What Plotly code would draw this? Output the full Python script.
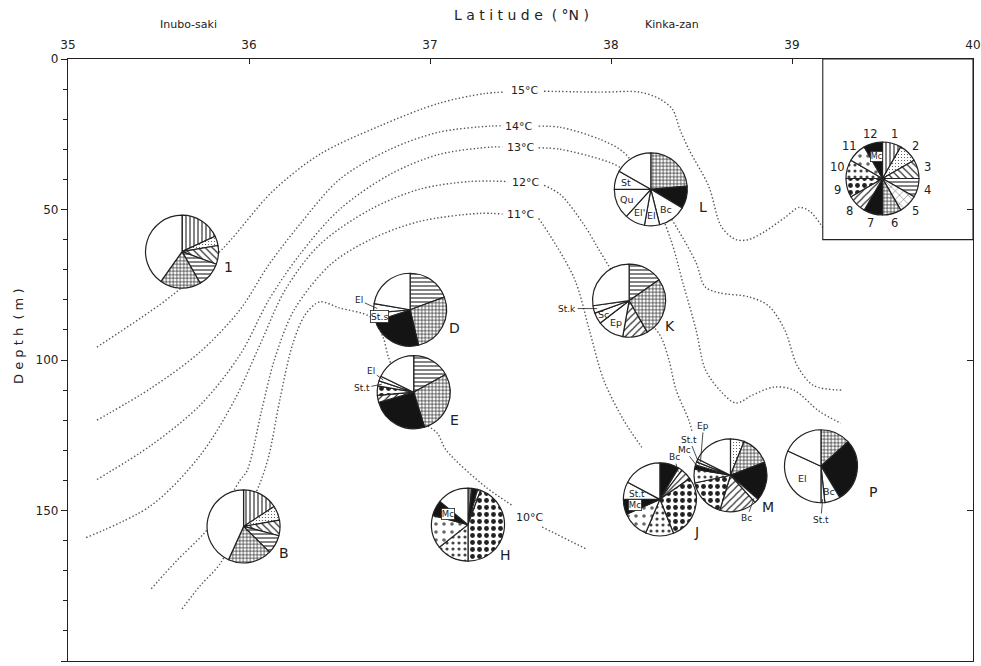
import math
import plotly.graph_objects as go

# ---------------- page / axis geometry ----------------
W, H = 981, 666
ML, MR, MT, MB = 68, 8, 59, 5
PW, PH = W - ML - MR, H - MT - MB
LAT_RANGE = [35, 40]
DEP_RANGE = [0, 200]
PX_LAT = PW / (LAT_RANGE[1] - LAT_RANGE[0])
PX_DEP = PH / (DEP_RANGE[1] - DEP_RANGE[0])
PIE_R = 36.5  # pie radius in px

# ---------------- isotherms (latitude °N, depth m); None = gap for label ----------------
t15_lat = [35.16, 35.58, 35.86, 36.13, 36.39, 36.72, 37.05, 37.30, 37.41, None,
           37.63, 37.94, 38.16, 38.27, 38.34, 38.38, 38.43, 38.54, 38.61, 38.69,
           38.76, 38.85, 38.96, 39.04, 39.10, 39.17]
t15_dep = [95.7, 78.3, 62.7, 44.0, 31.7, 22.3, 14.7, 11.5, 11.0, None,
           10.7, 11.0, 11.0, 13.3, 16.7, 23.3, 30.0, 42.3, 55.7, 60.0,
           60.0, 57.3, 52.7, 49.3, 50.7, 56.0]

t14_lat = [35.16, 35.46, 35.73, 35.95, 36.11, 36.28, 36.50, 36.78, 37.05, 37.33, 37.39, None,
           37.60, 37.72, 37.94, 38.07, 38.22, 38.36, 38.47, 38.52, 38.60, 38.76,
           38.87, 38.96, 39.03, 39.12, 39.28]
t14_dep = [120.0, 109.3, 97.3, 83.3, 68.3, 55.0, 40.0, 30.0, 24.3, 22.3, 22.2, None,
           22.3, 22.7, 26.7, 31.0, 43.0, 55.7, 67.7, 75.7, 77.7, 79.0,
           82.0, 90.0, 102.0, 108.5, 110.0]

t13_lat = [35.16, 35.46, 35.73, 35.95, 36.11, 36.28, 36.50, 36.78, 37.05, 37.33, 37.40, None,
           37.60, 37.72, 37.94, 38.05, 38.22, 38.33, 38.40, 38.47, 38.52, 38.60, 38.69,
           38.78, 38.90, 39.01, 39.15, 39.27]
t13_dep = [139.7, 128.3, 115.0, 98.3, 80.0, 65.0, 50.0, 38.3, 31.7, 29.3, 29.2, None,
           29.5, 30.0, 33.3, 36.0, 45.0, 60.0, 75.0, 90.0, 103.0, 110.0, 114.3,
           111.7, 109.0, 110.0, 117.0, 121.0]

t12_lat = [35.10, 35.46, 35.73, 35.92, 36.06, 36.20, 36.39, 36.67, 36.94, 37.22, 37.43, None,
           37.63, 37.72, 37.85, 37.92, 37.98, 38.10, 38.27, 38.32, 38.36, 38.43, 38.45]
t12_dep = [159.0, 148.3, 131.7, 113.3, 95.0, 76.7, 61.7, 50.0, 43.3, 40.7, 40.7, None,
           42.0, 45.0, 55.0, 62.0, 68.0, 80.0, 91.7, 100.0, 110.0, 120.0, 124.3]

t11_lat = [35.46, 35.60, 35.75, 35.85, 35.95, 35.99, 36.07, 36.14, 36.25, 36.45, 36.67,
           36.94, 37.27, 37.40, None, 37.60, 37.66, 37.80, 37.88, 37.96, 38.07, 38.17]
t11_dep = [176.0, 166.7, 157.7, 150.0, 140.0, 136.7, 116.7, 100.0, 83.3, 68.3, 60.0,
           54.0, 51.3, 51.5, None, 53.0, 58.3, 73.3, 90.0, 106.7, 120.0, 129.0]

t10_lat = [35.63, 35.73, 35.84, 35.95, 36.06, 36.11, 36.17, 36.24, 36.31, 36.39, 36.50,
           36.67, 36.74, 36.77, 36.85, 36.95, 37.04, 37.09, 37.31, 37.46, None, 37.62, 37.86]
t10_dep = [182.7, 175.0, 167.7, 155.0, 141.0, 131.7, 113.3, 95.0, 85.0, 80.7, 82.7,
           85.7, 92.3, 99.0, 110.0, 120.0, 124.3, 130.0, 142.3, 148.5, None, 155.5, 162.7]

iso_names = ["15°C", "14°C", "13°C", "12°C", "11°C", "10°C"]
iso_label_lat = [37.52, 37.49, 37.50, 37.53, 37.50, 37.55]
iso_label_dep = [10.5, 22.3, 29.3, 41.0, 51.7, 152.2]
iso_lines = [(t15_lat, t15_dep), (t14_lat, t14_dep), (t13_lat, t13_dep),
             (t12_lat, t12_dep), (t11_lat, t11_dep), (t10_lat, t10_dep)]

# ---------------- stations ----------------
station_names = ["1", "B", "D", "E", "H", "L", "K", "J", "M", "P"]
station_lat = [35.63, 35.97, 36.89, 36.91, 37.21, 38.22, 38.10, 38.27, 38.66, 39.16]
station_dep = [64.0, 155.3, 83.3, 110.7, 154.7, 43.3, 80.3, 146.3, 138.3, 135.3]

# slice composition (%), clockwise from 12 o'clock; "" = remainder
comp_codes = {
    "1": ["1", "2", "3", "4", "6", ""],
    "B": ["1", "2", "3", "4", "6", ""],
    "D": ["4", "6", "7", "St.s", "El", ""],
    "E": ["4", "6", "7", "8", "9", "St.t", "El", ""],
    "H": ["1", "7", "8", "9", "10", "11", "12", ""],
    "L": ["6", "7", "Bc", "El", "El'", "Qu", "St", ""],
    "K": ["4", "6", "8", "Ep", "Sc", "St.k", ""],
    "J": ["7", "Bc", "8", "9", "10", "11", "12", "St.t", ""],
    "M": ["2", "6", "7", "Bc", "8", "9", "10", "12", "St.t", "Ep", ""],
    "P": ["6", "7", "Bc", "St.t", "El", ""],
}
comp_values = {
    "1": [18.1, 4.2, 8.3, 11.1, 18.1, 40.2],
    "B": [15.8, 6.4, 6.9, 8.3, 19.4, 43.2],
    "D": [19.4, 26.9, 23.6, 3.6, 4.2, 22.3],
    "E": [16.9, 28.3, 25.3, 3.1, 4.2, 2.2, 2.2, 17.8],
    "H": [1.7, 2.5, 1.4, 44.4, 14.4, 14.7, 6.9, 14.0],
    "L": [23.6, 10.0, 12.5, 6.7, 8.9, 13.3, 8.3, 16.7],
    "K": [15.3, 26.4, 11.1, 11.7, 5.0, 3.3, 27.2],
    "J": [8.6, 1.7, 5.0, 28.6, 12.5, 11.9, 6.7, 7.8, 17.2],
    "M": [6.1, 13.1, 17.2, 1.9, 16.4, 16.9, 6.1, 1.9, 1.4, 1.4, 17.6],
    "P": [13.3, 28.1, 6.9, 1.7, 31.9, 18.1],
}

# key pie (12 equal sectors)
key_lat, key_dep = 39.50, 39.7
key_codes = [str(i) for i in range(1, 13)]
key_values = [1] * 12
key_box = dict(lat0=39.17, lat1=40.0, dep0=0.0, dep1=60.0)

# ---------------- styles ----------------
INK = "#222222"
FONT = "DejaVu Sans"
# code -> (shape, size, solidity, fgcolor)
PATTERN = {
    "1": ("|", 4, 0.28, INK),
    "2": (".", 3, 0.12, "#444444"),
    "3": ("\\", 5, 0.22, INK),
    "4": ("-", 4, 0.28, INK),
    "5": ("x", 6, 0.12, INK),
    "6": ("+", 3.5, 0.35, INK),
    "8": ("/", 5, 0.22, INK),
    "9": (".", 7, 0.38, INK),
    "10": (".", 6, 0.22, "#444444"),
    "11": (".", 8, 0.16, "#666666"),
}
SOLID = {"7", "12"}


def slice_style(codes):
    colors, shapes, sizes, sols, fgs = [], [], [], [], []
    for c in codes:
        if c in PATTERN:
            s, z, so, fg = PATTERN[c]
            colors.append("white"); shapes.append(s); sizes.append(z)
            sols.append(so); fgs.append(fg)
        elif c in SOLID:
            colors.append("#141414"); shapes.append(""); sizes.append(4)
            sols.append(0.3); fgs.append(INK)
        else:
            colors.append("white"); shapes.append(""); sizes.append(4)
            sols.append(0.3); fgs.append(INK)
    return colors, shapes, sizes, sols, fgs


def to_data(lat, dep, dx=0.0, dy=0.0):
    return lat + dx / PX_LAT, dep + dy / PX_DEP


def pie_domain(lat, dep):
    cx = (lat - LAT_RANGE[0]) * PX_LAT
    cy = (dep - DEP_RANGE[0]) * PX_DEP
    return dict(x=[(cx - PIE_R) / PW, (cx + PIE_R) / PW],
                y=[1 - (cy + PIE_R) / PH, 1 - (cy - PIE_R) / PH])


def mid_angles(values):
    tot = sum(values)
    out, acc = [], 0.0
    for v in values:
        out.append((acc + v / 2) / tot * 360.0)
        acc += v
    return out


def on_pie(lat, dep, ang, rfac):
    a = math.radians(ang)
    return to_data(lat, dep, PIE_R * rfac * math.sin(a), -PIE_R * rfac * math.cos(a))


fig = go.Figure()

# isotherms
for lat, dep in iso_lines:
    fig.add_trace(go.Scatter(
        x=lat, y=dep, mode="lines", connectgaps=False, hoverinfo="skip",
        line=dict(color="#555555", width=1.4, dash="1.4px,2.2px", shape="spline", smoothing=0.9),
        showlegend=False))

# right-hand depth axis carries only the major ticks
fig.add_trace(go.Scatter(x=[], y=[], yaxis="y2", showlegend=False, hoverinfo="skip"))


def add_pie(codes, values, lat, dep):
    colors, shapes, sizes, sols, fgs = slice_style(codes)
    fig.add_trace(go.Pie(
        values=values, labels=[f"{i}" for i in range(len(values))],
        sort=False, direction="clockwise", rotation=0,
        domain=pie_domain(lat, dep), textinfo="none", hoverinfo="skip",
        showlegend=False,
        marker=dict(colors=colors, line=dict(color=INK, width=1.2),
                    pattern=dict(shape=shapes, size=sizes, solidity=sols,
                                 fgcolor=fgs, bgcolor=["white" if s else c for s, c in zip(shapes, colors)],
                                 fillmode="replace"))))


for name, lat, dep in zip(station_names, station_lat, station_dep):
    add_pie(comp_codes[name], comp_values[name], lat, dep)
add_pie(key_codes, key_values, key_lat, key_dep)

annotations = []


def text(lat, dep, s, size=12, **kw):
    d = dict(x=lat, y=dep, xref="x", yref="y", text=s, showarrow=False,
             xanchor="center", yanchor="middle",
             font=dict(family=FONT, size=size, color=INK))
    d.update(kw)
    annotations.append(d)


# station letters (px offset from pie centre)
letter_offset = {"1": (46, 15), "B": (40, 27), "D": (44, 18), "E": (41, 28), "H": (37, 30),
                 "L": (52, 18), "K": (41, 25), "J": (37, 33), "M": (38, 32), "P": (52, 26)}
for name, lat, dep in zip(station_names, station_lat, station_dep):
    dx, dy = letter_offset[name]
    x, y = to_data(lat, dep, dx, dy)
    text(x, y, name, size=14)

# slice names
inside_labels = [
    ("L", "Bc", "Bc", 0.68), ("L", "El", "El", 0.72), ("L", "El'", "El'", 0.72),
    ("L", "Qu", "Qu", 0.70), ("L", "St", "St", 0.70),
    ("K", "Ep", "Ep", 0.70), ("K", "Sc", "Sc", 0.80),
    ("J", "St.t", "St.t", 0.66),
    ("P", "El", "El", 0.60), ("P", "Bc", "Bc", 0.72),
    ("D", "St.s", "St.s", 0.86),
]
boxed_labels = [("J", "12", "Mc", 0.70), ("H", "12", "Mc", 0.62)]
arrow_labels = [
    ("K", "St.k", "St.k", -30, 0),
    ("J", "Bc", "Bc", -4, -15),
    ("M", "Ep", "Ep", 3, -36), ("M", "St.t", "St.t", -10, -25),
    ("M", "12", "Mc", -14, -18), ("M", "Bc", "Bc", -7, 20),
    ("P", "St.t", "St.t", -2, 21),
    ("D", "El", "El", -18, -8),
    ("E", "El", "El", -12, -9), ("E", "St.t", "St.t", -20, 4),
]
stn = {n: (la, de) for n, la, de in zip(station_names, station_lat, station_dep)}


def slice_angle(name, code):
    codes = comp_codes[name]
    return mid_angles(comp_values[name])[codes.index(code)]


for name, code, s, rf in inside_labels:
    la, de = stn[name]
    x, y = on_pie(la, de, slice_angle(name, code), rf)
    boxed = code == "St.s"
    text(x, y, s, size=9 if name == "J" else 9.5, bgcolor="white" if boxed else None,
         bordercolor=INK if boxed else None, borderwidth=0.8 if boxed else 0,
         borderpad=0)

for name, code, s, rf in boxed_labels:
    la, de = stn[name]
    x, y = on_pie(la, de, slice_angle(name, code), rf)
    text(x, y, s, size=8.5, bgcolor="white", bordercolor=INK, borderwidth=0.8, borderpad=0)

for name, code, s, ax, ay in arrow_labels:
    la, de = stn[name]
    x, y = on_pie(la, de, slice_angle(name, code), 0.9)
    annotations.append(dict(x=x, y=y, xref="x", yref="y", text=s, showarrow=True,
                            arrowhead=0, arrowwidth=0.8, arrowcolor=INK, ax=ax, ay=ay,
                            standoff=0, xanchor="center", yanchor="middle",
                            font=dict(family=FONT, size=9, color=INK)))

# key pie numbers and "Mc"
for code, ang in zip(key_codes, mid_angles(key_values)):
    x, y = on_pie(key_lat, key_dep, ang, 1.27)
    text(x, y, code, size=11.5)
x, y = on_pie(key_lat, key_dep, mid_angles(key_values)[11], 0.62)
text(x, y, "Mc", size=8, bgcolor="white", bordercolor=INK, borderwidth=0.8, borderpad=0)

# isotherm labels
for s, la, de in zip(iso_names, iso_label_lat, iso_label_dep):
    text(la, de, s, size=11)


# place names and axis titles (paper coordinates)
def ptext(px, py, s, size, **kw):
    d = dict(x=(px - ML) / PW, y=1 - (py - MT) / PH, xref="paper", yref="paper",
             text=s, showarrow=False, xanchor="center", yanchor="middle",
             font=dict(family=FONT, size=size, color=INK))
    d.update(kw)
    annotations.append(d)


ptext(188, 25, "Inubo-saki", 11)
ptext(672, 25, "Kinka-zan", 11)
ptext(521, 15, "L a t i t u d e  ( °N )", 14)
ptext(18, 337, "D e p t h  ( m )", 13, textangle=-90)

fig.add_shape(type="rect", xref="x", yref="y", x0=key_box["lat0"], x1=key_box["lat1"],
              y0=key_box["dep0"], y1=key_box["dep1"], line=dict(color=INK, width=1.1))

fig.update_layout(
    width=W, height=H, margin=dict(l=ML, r=MR, t=MT, b=MB, autoexpand=False),
    paper_bgcolor="white", plot_bgcolor="white",
    annotations=annotations,
    xaxis=dict(range=LAT_RANGE, side="top", tickvals=[35, 36, 37, 38, 39, 40],
               showline=True, linecolor=INK, linewidth=1.2, mirror=True,
               ticks="inside", ticklen=5, tickcolor=INK, showgrid=False, zeroline=False,
               ticklabelstandoff=4,
               tickfont=dict(family=FONT, size=12, color=INK)),
    yaxis=dict(range=[DEP_RANGE[1], DEP_RANGE[0]], tickvals=[0, 50, 100, 150, 200],
               showline=True, linecolor=INK, linewidth=1.2, mirror=True,
               ticks="outside", ticklen=6, tickcolor=INK, showgrid=False, zeroline=False,
               minor=dict(dtick=10, ticks="outside", ticklen=4, tickcolor=INK, showgrid=False),
               tickfont=dict(family=FONT, size=12, color=INK)),
    yaxis2=dict(range=[DEP_RANGE[1], DEP_RANGE[0]], overlaying="y", side="right", anchor="x",
                tickvals=[50, 100, 150], ticks="inside", ticklen=6, tickcolor=INK,
                showticklabels=False, showline=False, showgrid=False, zeroline=False),
)

fig.write_html("out.html")
